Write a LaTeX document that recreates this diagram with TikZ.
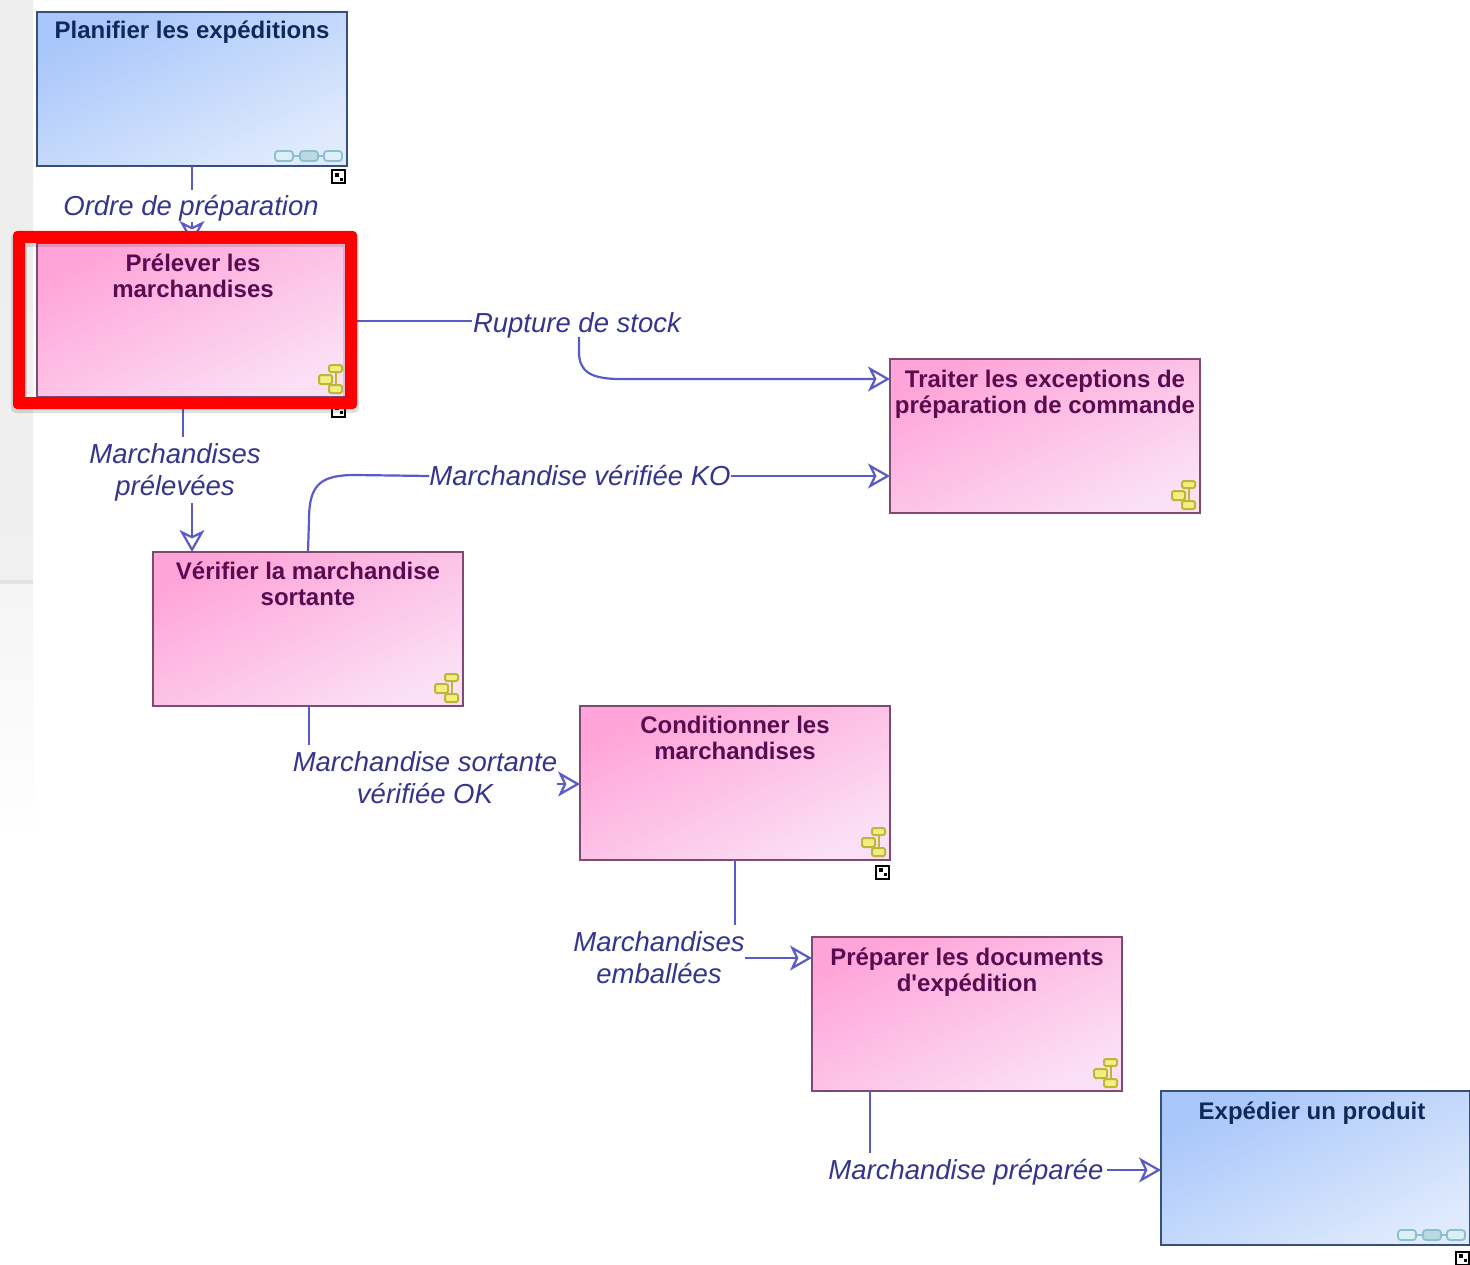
\documentclass[tikz,border=0pt]{standalone}
\usepackage{fontspec}
\setmainfont{Liberation Sans}[Ligatures=TeXReset]
\usetikzlibrary{arrows.meta,calc}
\definecolor{flow}{HTML}{5A5AC8}
\definecolor{flowtext}{HTML}{35358C}
\definecolor{pinkline}{HTML}{7C4A72}
\definecolor{blueline}{HTML}{36507A}
\definecolor{pinktext}{HTML}{5A0A50}
\definecolor{bluetext}{HTML}{0F2A5A}
\definecolor{pinkA}{HTML}{FFA4D8}
\definecolor{pinkB}{HTML}{FBE0F5}
\definecolor{blueA}{HTML}{A8C6FA}
\definecolor{blueB}{HTML}{DFEAFD}
\definecolor{hierline}{HTML}{BDB636}
\definecolor{hierfill}{HTML}{F2EE84}
\definecolor{chainline}{HTML}{8CC0D0}
\definecolor{chainfill}{HTML}{DCEEF8}
\tikzset{
  x=1pt,y=-1pt,
  pinkbox/.style={draw=pinkline,line width=2.4pt,minimum width=310pt,minimum height=154pt,
    anchor=north west,inner sep=0pt,outer sep=0pt,
    left color=pinkA,right color=pinkB,shading angle=26},
  bluebox/.style={draw=blueline,line width=2.4pt,minimum width=310pt,minimum height=154pt,
    anchor=north west,inner sep=0pt,outer sep=0pt,
    left color=blueA,right color=blueB,shading angle=26},
  boxtitle/.style={anchor=north,align=center,font=\fontsize{24}{26}\selectfont\bfseries,inner sep=0pt},
  flowlabel/.style={align=center,font=\fontsize{27.5}{32}\selectfont\itshape,text=flowtext,inner sep=0pt},
  flowline/.style={draw=flow,line width=2.2pt},
  flowarrow/.style={flowline,-{Stealth[open,length=22pt,width=25pt,inset=6pt,line width=2.2pt]}},
  expandicon/.style={draw=black,line width=2pt,fill=white,minimum size=13pt,inner sep=0pt},
  hierbit/.style={draw=hierline,fill=hierfill,line width=2pt,rounded corners=1.5pt},
  chainbit/.style={draw=chainline,fill=chainfill,line width=1.8pt,rounded corners=3pt},
}
\newcommand{\hier}[2]{% lower right corner of the box
  \begin{scope}[shift={(#1,#2)}]
    \draw[hierline,line width=2.6pt] (-9,-26) -- (-9,-8);
    \draw[hierbit] (-16,-31) rectangle (-3,-24);
    \draw[hierbit] (-26,-21) rectangle (-13,-12);
    \draw[hierbit] (-16,-11) rectangle (-3,-3);
  \end{scope}}
\newcommand{\chain}[2]{%
  \begin{scope}[shift={(#1,#2)}]
    \draw[chainline,line width=2pt] (-55,-10) -- (-10,-10);
    \draw[chainbit] (-72,-15) rectangle (-54,-5);
    \draw[chainbit,fill=chainline!60] (-47,-15) rectangle (-29,-5);
    \draw[chainbit] (-23,-15) rectangle (-5,-5);
  \end{scope}}
\newcommand{\expand}[3]{%
  \node[expandicon] (#1) at (#2,#3) {};
  \fill (#2-4,#3-4) rectangle ++(4,4);
  \fill (#2+1,#3+1) rectangle ++(3,3);}
\begin{document}
\begin{tikzpicture}
\useasboundingbox (0,0) rectangle (1470,1265);
% window remnant at the left
\fill[white] (0,0) rectangle (1470,1265);
\shade[top color=black!7,bottom color=black!6] (0,0) rectangle (33,580);
\fill[black!11] (0,580) rectangle (33,584);
\shade[top color=black!4,bottom color=white] (0,584) rectangle (33,845);

% boxes
\node[bluebox] (plan) at (37,12) {};
\node[pinkbox] (prel) at (37,243) {};
\node[pinkbox] (trait) at (890,359) {};
\node[pinkbox] (verif) at (153,552) {};
\node[pinkbox] (cond) at (580,706) {};
\node[pinkbox] (prep) at (812,937) {};
\node[bluebox,minimum width=309pt] (exped) at (1161,1091) {};

\node[boxtitle,text=bluetext] (plant) at (192,21) {Planifier les expéditions};
\node[boxtitle,text=pinktext] (prelt) at (193,254) {Prélever les\\marchandises};
\node[boxtitle,text=pinktext] (traitt) at (1045,370) {Traiter les exceptions de\\préparation de commande};
\node[boxtitle,text=pinktext] (veritt) at (308,562) {Vérifier la marchandise\\sortante};
\node[boxtitle,text=pinktext] (condt) at (735,716) {Conditionner les\\marchandises};
\node[boxtitle,text=pinktext] (prept) at (967,948) {Préparer les documents\\d'expédition};
\node[boxtitle,text=bluetext] (expet) at (1312,1102) {Expédier un produit};

% icons
\chain{347}{166}
\chain{1470}{1245}
\hier{345}{396}
\hier{1198}{512}
\hier{461}{705}
\hier{888}{859}
\hier{1120}{1090}
\expand{e1}{338.5}{177}
\expand{e2}{338.5}{410}
\expand{e3}{882.5}{872}
\expand{e4}{1462.5}{1258}

% labels
\node[flowlabel] (l1) at (191,208) {Ordre de préparation};
\node[flowlabel] (l2) at (577,325) {Rupture de stock};
\node[flowlabel] (l3) at (175,472) {Marchandises\\prélevées};
\node[flowlabel] (l4) at (580,476) {Marchandise vérifiée KO};
\node[flowlabel] (l5) at (425,778) {Marchandise sortante\\vérifiée OK};
\node[flowlabel] (l6) at (659,958) {Marchandises\\emballées};
\node[flowlabel] (l7) at (966,1172) {Marchandise préparée};

% connectors
\coordinate (c1a) at (192,166); \coordinate (c1b) at (192,190);
\coordinate (c1c) at (192,222); \coordinate (c1d) at (192,243);
\draw[flowline] (c1a) -- (c1b);
\draw[flowarrow] (c1c) -- (c1d);

\coordinate (c2a) at (345,321); \coordinate (c2b) at (472,321);
\draw[flowline] (c2a) -- (c2b);
\coordinate (c2c) at (579,337);
\draw[flowarrow] (c2c) -- (579,352) .. controls (579,371) and (590,379) .. (620,379) -- (trait.west |- 0,379);

\coordinate (c3a) at (183,397); \coordinate (c3b) at (183,437);
\draw[flowline] (c3a) -- (c3b);
\coordinate (c3c) at (192,503);
\draw[flowarrow] (c3c) -- (verif.north west -| c3c);

\draw[flowline] (verif.north) -- (309,520) .. controls (309,485) and (320,475) .. (355,475) -- (l4.west);
\draw[flowarrow] (l4.east) -- (trait.west |- l4.east);

\coordinate (c5a) at (309,706); \coordinate (c5b) at (309,745);
\draw[flowline] (c5a) -- (c5b);
\coordinate (c5c) at (557,784);
\draw[flowarrow] (c5c) -- (cond.west |- c5c);

\coordinate (c6a) at (735,860); \coordinate (c6b) at (735,925);
\draw[flowline] (c6a) -- (c6b);
\coordinate (c6c) at (745,958);
\draw[flowarrow] (c6c) -- (prep.west |- c6c);

\coordinate (c7a) at (870,1091); \coordinate (c7b) at (870,1153);
\draw[flowline] (c7a) -- (c7b);
\draw[flowarrow] ([xshift=3pt]l7.east |- 0,1170) -- (exped.west |- 0,1170);

% red highlight with its soft shadow
\fill[black,opacity=.12,rounded corners=5pt,even odd rule]
  (11,233) rectangle (359,413) [sharp corners] (27,247) rectangle (343,397);
\fill[red,rounded corners=4pt,even odd rule]
  (13,231) rectangle (357,409) [sharp corners] (25,243) rectangle (345,397);
\end{tikzpicture}
\end{document}
